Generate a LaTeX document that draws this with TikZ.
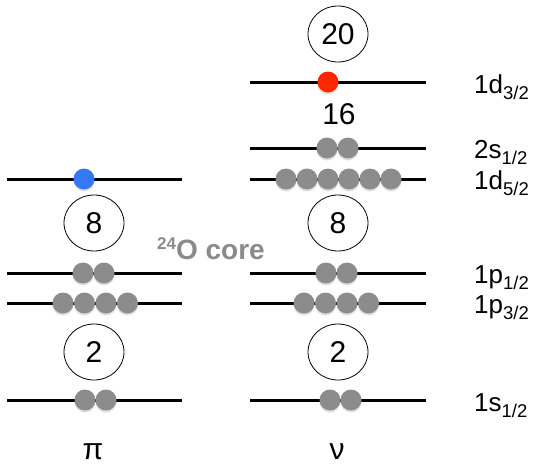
\documentclass[tikz,border=0pt]{standalone}
\usepackage{fontspec}
\setmainfont{Liberation Sans}
\usetikzlibrary{shapes.geometric,shadows}
\definecolor{ballgray}{RGB}{140,140,140}
\definecolor{ballred}{RGB}{255,38,0}
\definecolor{ballblue}{RGB}{52,120,246}
\definecolor{coregray}{RGB}{138,138,138}
\newcommand{\orbl}[2]{#1\raisebox{-6.5pt}{\fontsize{18.5}{18.5}\selectfont #2}}
\tikzset{
  levelline/.style={line width=3pt, black},
  ball/.style={circle, minimum size=21pt, inner sep=0pt, fill=ballgray,
    drop shadow={opacity=0.25, shadow xshift=0pt, shadow yshift=-2pt}},
  magic/.style={ellipse, draw, line width=0.8pt, minimum width=60pt, minimum height=56pt,
    inner sep=0pt, font=\fontsize{30}{32}\selectfont},
  orb/.style={anchor=base west, inner sep=0pt, font=\fontsize{26}{28}\selectfont},
  iso/.style={anchor=base, inner sep=0pt, font=\fontsize{30}{32}\selectfont},
}
\begin{document}
\begin{tikzpicture}[x=1pt, y=-1pt]
\useasboundingbox (0,0) rectangle (533,464);
% level end points
\coordinate (L5a) at (7,179);   \coordinate (L5b) at (182,179);
\coordinate (L4a) at (7,273);   \coordinate (L4b) at (182,273);
\coordinate (L3a) at (7,303);   \coordinate (L3b) at (182,303);
\coordinate (L1a) at (7,400);   \coordinate (L1b) at (182,400);
\coordinate (R7a) at (250,82);  \coordinate (R7b) at (426,82);
\coordinate (R6a) at (250,148); \coordinate (R6b) at (426,148);
\coordinate (R5a) at (250,179); \coordinate (R5b) at (426,179);
\coordinate (R4a) at (250,273); \coordinate (R4b) at (426,273);
\coordinate (R3a) at (250,303); \coordinate (R3b) at (426,303);
\coordinate (R1a) at (250,400); \coordinate (R1b) at (426,400);
\foreach \p in {L5,L4,L3,L1,R7,R6,R5,R4,R3,R1}{\draw[levelline] (\p a) -- (\p b);}
% balls
\node[ball, fill=ballred] (red) at (328,82) {};
\node[ball, fill=ballblue] (blue) at (84,179) {};
\node[ball] (r6a) at (327,148) {};
\node[ball] (r6b) at (348,148) {};
\foreach \x [count=\i] in {286,307,328,349,370,391}{\node[ball] (r5\i) at (\x,179) {};}
\node[ball] (l4a) at (83,273) {};
\node[ball] (l4b) at (104,273) {};
\foreach \x [count=\i] in {63,84.5,106,127.5}{\node[ball] (l3\i) at (\x,303) {};}
\node[ball] (r4a) at (326,273) {};
\node[ball] (r4b) at (347,273) {};
\foreach \x [count=\i] in {304,325.5,347,368.5}{\node[ball] (r3\i) at (\x,303) {};}
\node[ball] (l1a) at (85,400) {};
\node[ball] (l1b) at (106,400) {};
\node[ball] (r1a) at (330,400) {};
\node[ball] (r1b) at (351,400) {};
% magic numbers
\node[magic] (m20) at (338,34) {20};
\node[magic] (m8l) at (94,223) {8};
\node[magic] (m8r) at (338,223) {8};
\node[magic] (m2l) at (94,352) {2};
\node[magic] (m2r) at (338,352) {2};
\node[anchor=base, inner sep=0pt, font=\fontsize{30}{32}\selectfont] (m16) at (339,124) {16};
% core label
\node[anchor=base west, inner sep=0pt, text=coregray, font=\bfseries\fontsize{28}{30}\selectfont] (core) at (157,259)
  {\raisebox{10pt}{\fontsize{17}{17}\selectfont 24}O core};
% orbital labels
\node[orb] (o7) at (474,93) {\orbl{1d}{3/2}};
\node[orb] (o6) at (474,158) {\orbl{2s}{1/2}};
\node[orb] (o5) at (474,189) {\orbl{1d}{5/2}};
\node[orb] (o4) at (474,283) {\orbl{1p}{1/2}};
\node[orb] (o3) at (474,313) {\orbl{1p}{3/2}};
\node[orb] (o1) at (474,411) {\orbl{1s}{1/2}};
% particle labels
\node[iso] (pi) at (93,459) {π};
\node[iso] (nu) at (337,459) {ν};
\end{tikzpicture}
\end{document}
